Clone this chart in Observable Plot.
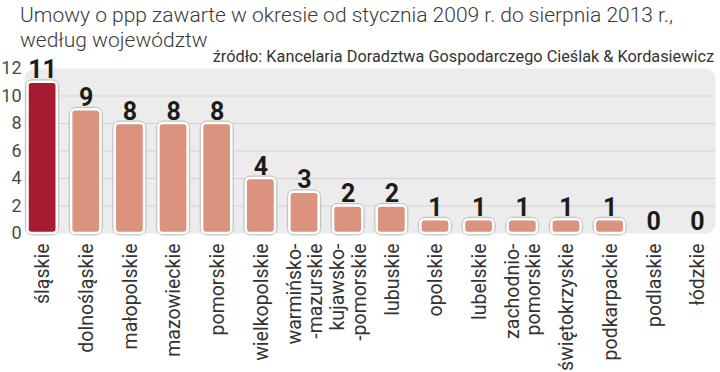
<!DOCTYPE html>
<html><head><meta charset="utf-8">
<script src="https://cdn.jsdelivr.net/npm/d3@7"></script>
<script src="https://cdn.jsdelivr.net/npm/@observablehq/plot@0.6"></script>
<style>
body{margin:0;background:#fff;font-family:Roboto, sans-serif;}
#wrap{position:relative;width:720px;height:372px;overflow:hidden}
#title{position:absolute;left:20px;top:3px;font-size:21px;line-height:25px;color:#3a3a3a;font-weight:300;white-space:nowrap}
#source{position:absolute;right:6px;top:47px;font-size:16.3px;color:#333;white-space:nowrap}
#chart{position:absolute;left:0;top:50px}
</style></head><body>
<div id="wrap">
<div id="title">Umowy o ppp zawarte w okresie od stycznia 2009 r. do sierpnia 2013 r.,<br>według województw</div>
<div id="source">źródło: Kancelaria Doradztwa Gospodarczego Cieślak &amp; Kordasiewicz</div>
<div id="chart"></div>
</div>
<script>
const regions = ["śląskie","dolnośląskie","małopolskie","mazowieckie","pomorskie","wielkopolskie","warmińsko-\n-mazurskie","kujawsko-\n-pomorskie","lubuskie","opolskie","lubelskie","zachodnio-\npomorskie","świętokrzyskie","podkarpackie","podlaskie","łódzkie"];
const counts = [11,9,8,8,8,4,3,2,2,1,1,1,1,1,0,0];
const highlighted = "śląskie";
const yTicks = [0,2,4,6,8,10,12];
const gridValues = [2,4,6,8,10];

const data = regions.map((r,i) => ({region: r, count: counts[i], hi: r === highlighted}));

const chart = Plot.plot({
  width: 720,
  height: 322,
  marginLeft: 24,
  marginRight: 5,
  marginTop: 18,
  marginBottom: 139,
  style: {fontFamily: "Roboto, sans-serif", background: "transparent"},
  x: {domain: regions, paddingInner: 0.33, paddingOuter: 0.08, round: false, label: null},
  y: {domain: [0, 12], label: null},
  marks: [
    Plot.frame({fill: "#ececec", stroke: null, rx: 10}),
    Plot.ruleY(gridValues, {stroke: "#d2d2d2", strokeWidth: 1}),
    Plot.barY(data, {x: "region", y: "count", fill: "none", stroke: "#c4c4c4", strokeWidth: 5, rx: 5}),
    Plot.barY(data, {x: "region", y: "count", fill: d => d.hi ? "#a61b31" : "#db937d", stroke: "white", strokeWidth: 2.5, rx: 4}),
    Plot.text(data, {x: "region", y: "count", text: d => String(d.count), lineAnchor: "bottom", dy: -4, fontSize: 25, fontWeight: "bold", fill: "#1c1c1c"}),
    Plot.axisY(yTicks, {tickSize: 0, tickPadding: 3, fontSize: 18, fill: "#4a4a4a"}),
    Plot.axisX({tickSize: 0, tickPadding: 10, tickRotate: -90, fontSize: 19.5, fill: "#333", label: null, lineHeight: 1.1})
  ]
});
document.getElementById("chart").appendChild(chart);
</script>
</body></html>
